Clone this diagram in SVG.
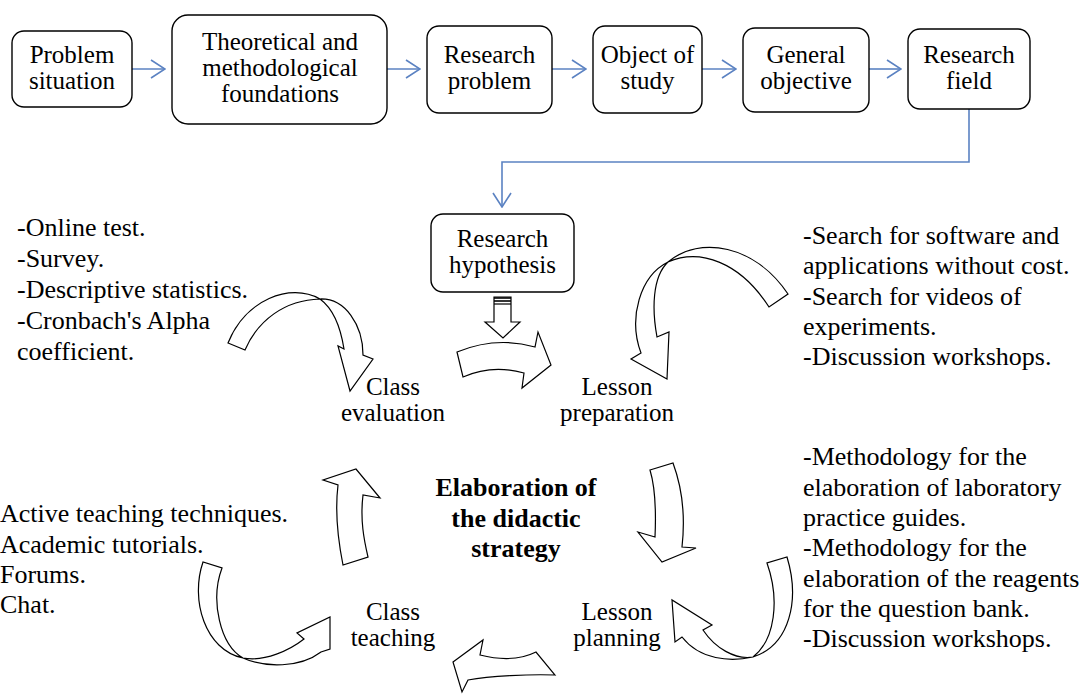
<svg xmlns="http://www.w3.org/2000/svg" width="1088" height="694" viewBox="0 0 1088 694">
<defs>
<style>
.box{fill:#fff;stroke:#000;stroke-width:1.4}
.t{font-family:"Liberation Serif","Times New Roman",serif;font-size:25px;fill:#000}
.tc{text-anchor:middle}
.s{font-family:"Liberation Serif","Times New Roman",serif;font-size:26px;fill:#000}
.l{font-family:"Liberation Serif","Times New Roman",serif;font-size:25px;fill:#000;text-anchor:middle}
.b{font-family:"Liberation Serif","Times New Roman",serif;font-size:26px;font-weight:bold;fill:#000;text-anchor:middle}
.con{fill:none;stroke:#5b82c2;stroke-width:1.6}
.blk{fill:#fff;stroke:#000;stroke-width:1.2;stroke-linejoin:miter}
</style>
<marker id="ah" viewBox="0 0 16 20" refX="15" refY="10" markerWidth="16" markerHeight="20" markerUnits="userSpaceOnUse" orient="auto">
<path d="M1,1 L15,10 L1,19" fill="none" stroke="#5b82c2" stroke-width="1.6"/>
</marker>
</defs>
<rect width="1088" height="694" fill="#fff"/>

<g id="connectors">
<line class="con" x1="132" y1="69" x2="165" y2="69" marker-end="url(#ah)"/>
<line class="con" x1="387" y1="69" x2="420" y2="69" marker-end="url(#ah)"/>
<line class="con" x1="552" y1="69" x2="586" y2="69" marker-end="url(#ah)"/>
<line class="con" x1="702" y1="69" x2="736" y2="69" marker-end="url(#ah)"/>
<line class="con" x1="869" y1="69" x2="901" y2="69" marker-end="url(#ah)"/>
<path class="con" d="M969,109 L969,162 L502,162 L502,207" marker-end="url(#ah)"/>
<g id="block-arrows">
<g id="hyp-down">
<path class="blk" d="M494,297 L511,297 L511,322 L520,322 L503,338 L485,322 L494,322 Z"/>
<line x1="494" y1="298" x2="511" y2="298" stroke="#000" stroke-width="1.6"/>
<line x1="494" y1="301" x2="511" y2="301" stroke="#000" stroke-width="1.6"/>
<line x1="494" y1="304" x2="511" y2="304" stroke="#000" stroke-width="1.2"/>
</g>
<path id="arr-eval-prep" class="blk" d="M457,352 Q496,336 535,347 L538,332 L551,365 L522,388 L524,373 Q492,364 463,377 Z"/>
<path id="arr-into-prep" class="blk" d="M788,294 C755,245 700,235 668,262 C652,277 652,310 657,337 L669,332 L667,379 L631,359 L641,353 C628,318 640,276 668,262 C700,248 740,262 769,307 Z"/>
<path id="arr-prep-plan" class="blk" d="M650,470 L673,463 C683,490 685,520 682,547 L696,548 L662,562 L638,532 L655,537 C656,515 656,490 650,470 Z"/>
<path id="arr-into-plan" class="blk" d="M787,557 C800,600 790,645 753,657 C735,660 715,648 703,630 L712,625 L672,600 L675,642 L682,637 C700,660 730,662 753,657 C775,640 780,600 767,563 Z"/>
<path id="arr-plan-teach" class="blk" d="M536,652 C520,660 500,660 480,655 L483,640 L453,662 L462,692 L468,680 C490,676 530,674 555,675 Z"/>
<path id="arr-into-teach" class="blk" d="M203,562 C190,600 205,650 243,658 C265,662 290,650 304,639 L297,633 L330,617 L330,649 L321,652 C300,668 265,668 243,658 C220,645 210,600 222,568 Z"/>
<path id="arr-teach-eval" class="blk" d="M343,565 C338,540 335,510 338,485 L323,480 L356,469 L380,498 L363,495 C360,520 364,540 368,557 Z"/>
<path id="arr-into-eval" class="blk" d="M228,343 C245,300 290,282 320,299 C335,310 341,330 344,349 L338,346 L350,391 L373,359 L363,355 C363,325 345,298 320,299 C285,300 258,320 245,350 Z"/>
</g>
</g>

<g id="problem-situation">
<rect class="box" x="12" y="31" width="120" height="76" rx="12"/>
<text class="t tc" x="72" y="63">Problem</text>
<text class="t tc" x="72" y="89">situation</text>
</g>
<g id="theoretical-foundations">
<rect class="box" x="172" y="15" width="215" height="109" rx="16"/>
<text class="t tc" x="280" y="50">Theoretical and</text>
<text class="t tc" x="280" y="76">methodological</text>
<text class="t tc" x="280" y="102">foundations</text>
</g>
<g id="research-problem">
<rect class="box" x="427" y="26" width="125" height="87" rx="12"/>
<text class="t tc" x="489.5" y="63">Research</text>
<text class="t tc" x="489.5" y="89">problem</text>
</g>
<g id="object-of-study">
<rect class="box" x="593" y="26" width="109" height="87" rx="12"/>
<text class="t tc" x="647.5" y="63">Object of</text>
<text class="t tc" x="647.5" y="89">study</text>
</g>
<g id="general-objective">
<rect class="box" x="743" y="28" width="126" height="84" rx="12"/>
<text class="t tc" x="806" y="63">General</text>
<text class="t tc" x="806" y="89">objective</text>
</g>
<g id="research-field">
<rect class="box" x="908" y="29" width="122" height="80" rx="12"/>
<text class="t tc" x="969" y="63">Research</text>
<text class="t tc" x="969" y="89">field</text>
</g>
<g id="research-hypothesis">
<rect class="box" x="431" y="214" width="143" height="78" rx="12"/>
<text class="t tc" x="502.5" y="247">Research</text>
<text class="t tc" x="502.5" y="273">hypothesis</text>
</g>

<g id="class-evaluation">
<text class="l" x="393" y="395">Class</text>
<text class="l" x="393" y="421">evaluation</text>
</g>
<g id="lesson-preparation">
<text class="l" x="617" y="395">Lesson</text>
<text class="l" x="617" y="421">preparation</text>
</g>
<g id="class-teaching">
<text class="l" x="393" y="620">Class</text>
<text class="l" x="393" y="646">teaching</text>
</g>
<g id="lesson-planning">
<text class="l" x="617" y="620">Lesson</text>
<text class="l" x="617" y="646">planning</text>
</g>
<g id="center-title">
<text class="b" x="516" y="496">Elaboration of</text>
<text class="b" x="516" y="527">the didactic</text>
<text class="b" x="516" y="557">strategy</text>
</g>

<g id="evaluation-notes">
<text class="s" x="17" y="236">-Online test.</text>
<text class="s" x="17" y="267">-Survey.</text>
<text class="s" x="17" y="298">-Descriptive statistics.</text>
<text class="s" x="17" y="329">-Cronbach's Alpha</text>
<text class="s" x="17" y="360">coefficient.</text>
</g>
<g id="preparation-notes">
<text class="s" x="803" y="244">-Search for software and</text>
<text class="s" x="803" y="274">applications without cost.</text>
<text class="s" x="803" y="305">-Search for videos of</text>
<text class="s" x="803" y="335">experiments.</text>
<text class="s" x="803" y="365">-Discussion workshops.</text>
</g>
<g id="planning-notes">
<text class="s" x="803" y="465">-Methodology for the</text>
<text class="s" x="803" y="495.5">elaboration of laboratory</text>
<text class="s" x="803" y="526">practice guides.</text>
<text class="s" x="803" y="556">-Methodology for the</text>
<text class="s" x="803" y="586.5">elaboration of the reagents</text>
<text class="s" x="803" y="617">for the question bank.</text>
<text class="s" x="803" y="647">-Discussion workshops.</text>
</g>
<g id="teaching-notes">
<text class="s" x="0" y="522">Active teaching techniques.</text>
<text class="s" x="0" y="552.5">Academic tutorials.</text>
<text class="s" x="0" y="583">Forums.</text>
<text class="s" x="0" y="613">Chat.</text>
</g>
</svg>
